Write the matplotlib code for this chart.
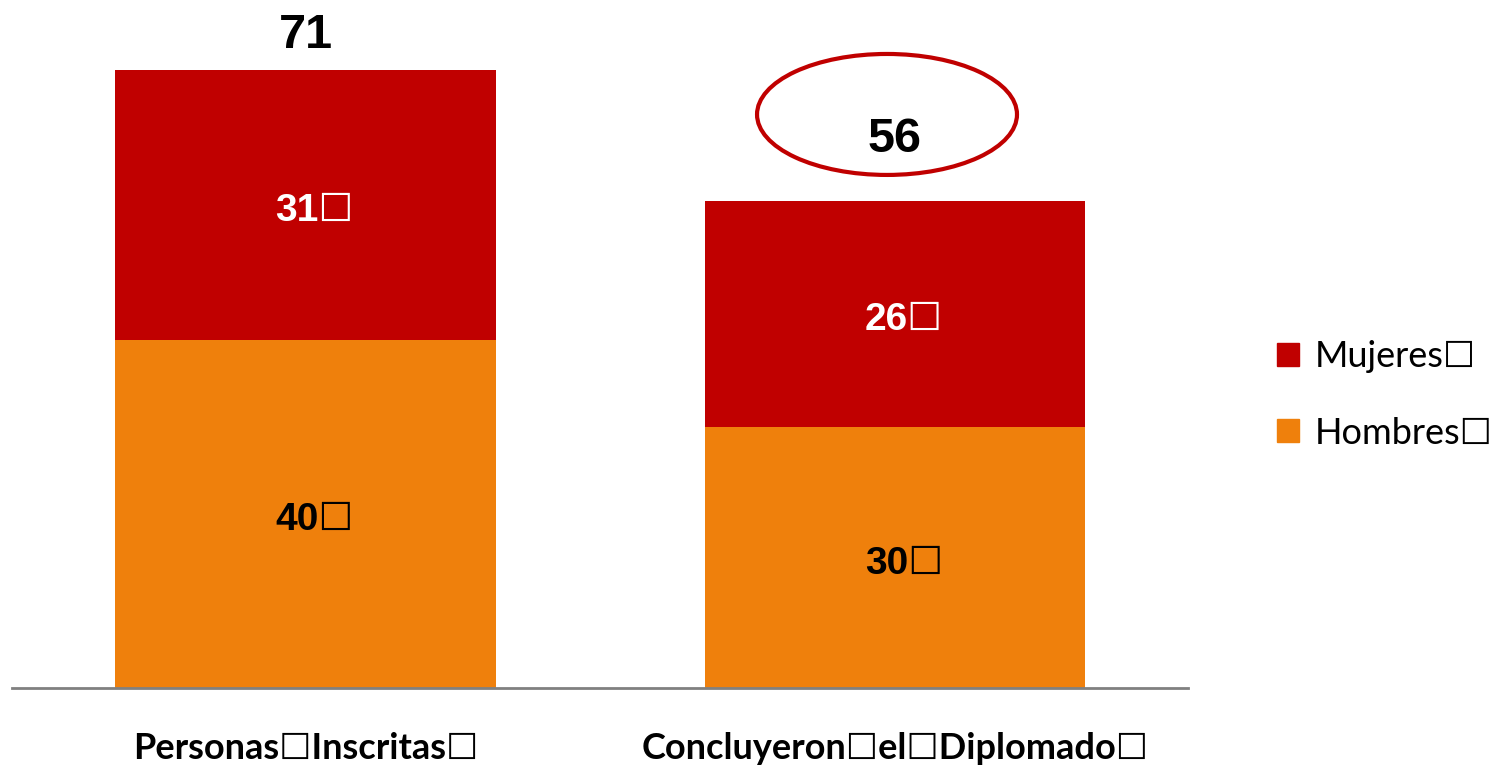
import numpy as np
import matplotlib.pyplot as plt
from matplotlib.patches import Ellipse, Patch

# data
box = '\u2610'
categories = ['Personas' + box + 'Inscritas' + box, 'Concluyeron' + box + 'el' + box + 'Diplomado' + box]
hombres = [40, 30]
mujeres = [31, 26]
totales = [71, 56]

red = '#C00000'
orange = '#EF800C'
num_font = ['Liberation Sans', 'DejaVu Sans']
txt_font = ['Lato', 'DejaVu Sans']

fig = plt.figure(figsize=(14.91, 7.66), dpi=100)
ax = fig.add_axes([12 / 1491, 78 / 766, 1176 / 1491, 688 / 766])

x = np.arange(len(categories))
w = 0.646
ax.bar(x, hombres, w, color=orange)
ax.bar(x, mujeres, w, bottom=hombres, color=red)

ax.set_xlim(-0.498, 1.497)
ax.set_ylim(0, 79.05)

# segment labels
for i in range(len(x)):
    ax.text(x[i] + 0.015, hombres[i] / 2 - 0.7, str(hombres[i]) + box, ha='center', va='center',
            fontsize=28, fontweight='bold', family=num_font, color='black')
    ax.text(x[i] + 0.015, hombres[i] + mujeres[i] / 2 - 0.7, str(mujeres[i]) + box, ha='center', va='center',
            fontsize=28, fontweight='bold', family=num_font, color='white')

# totals on top
offsets = [4.0, 7.0]
for i in range(len(x)):
    ax.text(x[i], totales[i] + offsets[i], str(totales[i]), ha='center', va='center',
            fontsize=35, fontweight='bold', family=num_font, color='black')

# highlight around the second total
ax.add_patch(Ellipse((0.9864, 65.9), 0.441, 13.9, fill=False, edgecolor=red, lw=3, clip_on=False))

# category labels under the axis
for i in range(len(x)):
    ax.text(x[i], -6.9, categories[i], ha='center', va='center', fontsize=26,
            fontweight='bold', family=txt_font, color='black')

for s in ['top', 'right', 'left']:
    ax.spines[s].set_visible(False)
ax.spines['bottom'].set_color('#808080')
ax.spines['bottom'].set_linewidth(2)
ax.set_xticks([])
ax.set_yticks([])

handles = [Patch(color=red, label='Mujeres' + box), Patch(color=orange, label='Hombres' + box)]
fig.legend(handles=handles, loc='center left', bbox_to_anchor=(1277 / 1491, 1 - 395 / 766),
           frameon=False, borderpad=0, borderaxespad=0, handlelength=0.6, handleheight=0.6,
           handletextpad=0.45, labelspacing=1.2, prop={'family': txt_font, 'size': 26})

fig.savefig('out.png', dpi=100)
